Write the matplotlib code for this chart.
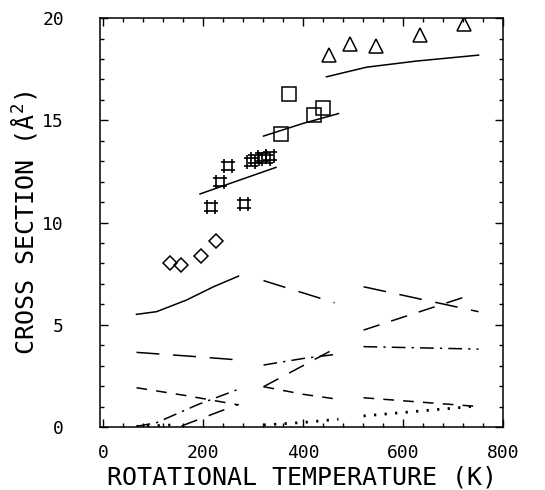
import numpy as np
import matplotlib.pyplot as plt
from matplotlib.path import Path
from matplotlib.ticker import MultipleLocator

# measured cross sections
diam_x = [134, 156, 196, 225]
diam_y = [8.0, 7.9, 8.36, 9.1]
star_x = [215, 233, 250, 281, 295, 304, 317, 325, 333]
star_y = [10.74, 11.98, 12.76, 10.9, 12.95, 13.1, 13.2, 13.1, 13.25]
sq_x = [355, 371, 421, 439]
sq_y = [14.33, 16.3, 15.26, 15.58]
tri_x = [452, 493, 545, 633, 721]
tri_y = [18.2, 18.73, 18.63, 19.17, 19.7]

# calculated totals
fit1_x = [194, 346]
fit1_y = [11.4, 12.7]
fit2_x = [321, 400, 471]
fit2_y = [14.23, 14.85, 15.33]
fit3_x = [447, 527, 627, 751]
fit3_y = [17.13, 17.6, 17.9, 18.19]

# partial contributions, three temperature ranges
solid_a_x = [67, 107, 167, 221, 271]
solid_a_y = [5.51, 5.64, 6.21, 6.86, 7.38]
longdash_a_x = [67, 170, 271]
longdash_a_y = [3.65, 3.47, 3.28]
shortdash_a_x = [67, 170, 271]
shortdash_a_y = [1.92, 1.52, 1.08]
dashdot_a_x = [67, 107, 190, 267]
dashdot_a_y = [0.03, 0.21, 1.1, 1.81]
dash_a_x = [157, 200, 271]
dash_a_y = [0.05, 0.45, 1.11]
dotted_a_x = [67, 140]
dotted_a_y = [0.03, 0.1]

longdash_b_x = [321, 463]
longdash_b_y = [7.16, 6.08]
dashdot_b_x = [321, 400, 471]
dashdot_b_y = [3.03, 3.35, 3.57]
dash_b_x = [321, 400, 471]
dash_b_y = [1.97, 3.0, 3.93]
shortdash_b_x = [321, 400, 463]
shortdash_b_y = [1.97, 1.6, 1.38]
dotted_b_x = [321, 400, 471]
dotted_b_y = [0.1, 0.22, 0.38]

longdash_c_x = [521, 751]
longdash_c_y = [6.86, 5.64]
dash_c_x = [521, 741]
dash_c_y = [4.74, 6.5]
dashdot_c_x = [521, 751]
dashdot_c_y = [3.93, 3.81]
shortdash_c_x = [521, 751]
shortdash_c_y = [1.43, 1.0]
dotted_c_x = [521, 751]
dotted_c_y = [0.54, 1.03]

plt.rcParams['font.family'] = ['DejaVu Sans Mono', 'DejaVu Sans']

# square with extended sides, like the plotter symbol
star_path = Path(
    [(-1, 0.6), (1, 0.6), (-1, -0.6), (1, -0.6),
     (0.6, -1), (0.6, 1), (-0.6, -1), (-0.6, 1)],
    [Path.MOVETO, Path.LINETO] * 4)

LONG = (0, (15, 9))
SHORT = (0, (7, 6))
DASH = (0, (11, 8))
DASHDOT = (0, (9, 4, 1.5, 4))
DOT = (0, (0.8, 3))

fig = plt.figure(figsize=(5.45, 4.9), dpi=100)
ax = fig.add_axes([0.1835, 0.1286, 0.7395, 0.8344])

lw = 1.1
dlw = 2.0
k = 'black'
ax.plot(fit1_x, fit1_y, '-', color=k, lw=lw)
ax.plot(fit2_x, fit2_y, '-', color=k, lw=lw)
ax.plot(fit3_x, fit3_y, '-', color=k, lw=lw)

ax.plot(solid_a_x, solid_a_y, '-', color=k, lw=lw)
ax.plot(longdash_a_x, longdash_a_y, color=k, lw=lw, ls=LONG)
ax.plot(shortdash_a_x, shortdash_a_y, color=k, lw=lw, ls=SHORT)
ax.plot(dashdot_a_x, dashdot_a_y, color=k, lw=lw, ls=DASHDOT)
ax.plot(dash_a_x, dash_a_y, color=k, lw=lw, ls=DASH)
ax.plot(dotted_a_x, dotted_a_y, color=k, lw=dlw, ls=DOT)

ax.plot(longdash_b_x, longdash_b_y, color=k, lw=lw, ls=LONG)
ax.plot(dashdot_b_x, dashdot_b_y, color=k, lw=lw, ls=DASHDOT)
ax.plot(dash_b_x, dash_b_y, color=k, lw=lw, ls=DASH)
ax.plot(shortdash_b_x, shortdash_b_y, color=k, lw=lw, ls=SHORT)
ax.plot(dotted_b_x, dotted_b_y, color=k, lw=dlw, ls=DOT)

ax.plot(longdash_c_x, longdash_c_y, color=k, lw=lw, ls=LONG)
ax.plot(dash_c_x, dash_c_y, color=k, lw=lw, ls=DASH)
ax.plot(dashdot_c_x, dashdot_c_y, color=k, lw=lw, ls=DASHDOT)
ax.plot(shortdash_c_x, shortdash_c_y, color=k, lw=lw, ls=SHORT)
ax.plot(dotted_c_x, dotted_c_y, color=k, lw=dlw, ls=DOT)

ax.plot(diam_x, diam_y, 'D', ms=7, mfc='none', mec=k, mew=1.1)
ax.plot(star_x, star_y, ls='none', marker=star_path, ms=10, mec=k, mew=1.2)
ax.plot(sq_x, sq_y, 's', ms=10, mfc='none', mec=k, mew=1.1)
ax.plot(tri_x, tri_y, '^', ms=10, mfc='none', mec=k, mew=1.1)

ax.set_xlim(-6, 800)
ax.set_ylim(0, 20)
ax.xaxis.set_major_locator(MultipleLocator(200))
ax.xaxis.set_minor_locator(MultipleLocator(40))
ax.yaxis.set_major_locator(MultipleLocator(5))
ax.yaxis.set_minor_locator(MultipleLocator(1))
ax.tick_params(which='both', direction='in', top=True, right=True, width=1)
ax.tick_params(which='major', length=6)
ax.tick_params(which='minor', length=3)
ax.tick_params(axis='x', which='major', pad=12, labelsize=13)
ax.tick_params(axis='y', which='major', pad=26, labelsize=13)
for s in ax.spines.values():
    s.set_linewidth(1.1)

ax.set_xlabel('ROTATIONAL TEMPERATURE (K)', fontsize=18)
ax.set_ylabel('CROSS SECTION (Å$^{\\mathregular{2}}$)', fontsize=18)
ax.xaxis.set_label_coords(0.5, -0.095)
ax.yaxis.set_label_coords(-0.152, 0.5)

fig.savefig('out.png', dpi=100)
